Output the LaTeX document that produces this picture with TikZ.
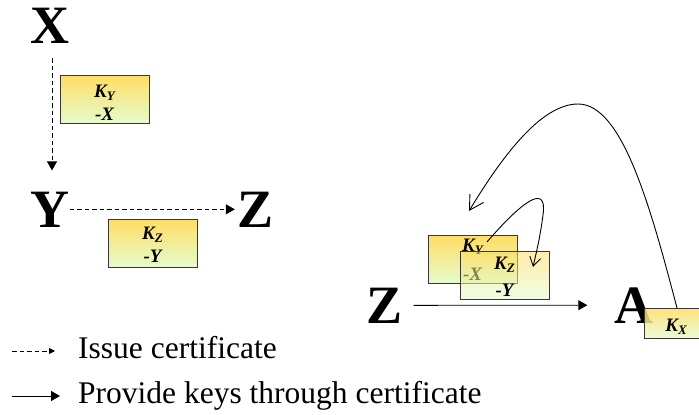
\documentclass[tikz,border=0pt]{standalone}
\usepackage{fontspec}
\setmainfont{Liberation Serif}
\usetikzlibrary{arrows.meta}
\definecolor{keytop}{RGB}{255,221,100}
\definecolor{keybot}{RGB}{228,252,205}
\definecolor{keyedge}{RGB}{55,55,55}
\newcommand{\keysub}[1]{\raisebox{-3.5pt}{\fontsize{13}{13}\selectfont #1}}

\begin{document}
\begin{tikzpicture}[x=1pt,y=-1pt,
  bigletter/.style={font=\fontsize{54}{54}\selectfont\bfseries, inner sep=0pt, anchor=base},
  keybox/.style={draw=keyedge, line width=0.9pt, top color=keytop, bottom color=keybot,
                 minimum width=89pt, minimum height=48pt, inner sep=0pt, outer sep=0pt},
  keytext/.style={font=\fontsize{19}{19}\selectfont\bfseries\itshape, inner sep=0pt, anchor=base},
  legendtext/.style={font=\fontsize{31.5}{31.5}\selectfont, inner sep=0pt, anchor=base west},
  issue/.style={line width=0.9pt, dash pattern=on 4.5pt off 3pt, -{Triangle[length=9pt,width=10pt]}},
  provide/.style={line width=0.9pt, -{Triangle[length=9pt,width=10pt]}},
  pass/.style={line width=0.9pt}]

\useasboundingbox (0,0) rectangle (699,415);

% ---- left: issuing chain X -> Y -> Z
\node[bigletter] (X) at (50,43) {X};
\node[bigletter] (Y) at (50,227) {Y};
\node[bigletter] (Z) at (256,227) {Z};

\draw[issue, shorten <=15pt, shorten >=21pt] ([xshift=2pt]X.south) -- ([xshift=2pt]Y.north);
\draw[issue, shorten >=3pt] (Y.east) -- (Z.west);

\node[keybox] (cy) at (104.5,99) {};
\node[keytext] (cyk) at (104.5,97) {K\keysub{Y}};
\node[keytext] (cyi) at (104.5,120) {-X};

\node[keybox] (cz) at (152.5,243) {};
\node[keytext] (czk) at (152.5,239) {K\keysub{Z}};
\node[keytext] (czi) at (152.5,262) {-Y};

% ---- right: Z obtains the keys from A
\node[bigletter] (Z2) at (384.5,323) {Z};
\node[bigletter] (A) at (634,323) {A};
\draw[provide, shorten <=11pt, shorten >=27pt] (Z2.east) -- (A.west);

\node[keybox] (ry) at (472.5,259) {};
\node[keytext] (ryk) at (472.5,251) {K\keysub{Y}};
\node[keytext] (ryi) at (472.5,280) {-X};

\node[keybox, fill opacity=0.55] (rz) at (504.5,275) {};
\node[keytext] (rzk) at (504.5,269) {K\keysub{Z}};
\node[keytext] (rzi) at (504.5,296) {-Y};

\node[keybox, fill opacity=0.85, minimum width=66pt, minimum height=30pt] (kx) at (677,323) {};
\node[keytext] (kxk) at (676,331) {K\keysub{X}};

% free ends of the curved connectors
\coordinate (bigend) at (469,211);
\coordinate (smallstart) at (487,242);
\coordinate (smallend) at (533,267);

\draw[pass, -{Straight Barb[length=14pt,width=16pt]}]
  (kx.north) .. controls (650,205) and (622,104) .. (578,104)
             .. controls (540,104) and (500,160) .. (bigend);
\draw[pass, -{Straight Barb[length=9pt,width=11pt]}]
  (smallstart) .. controls (518,206) and (548,180) .. (543,215)
               .. controls (540,238) and (536,254) .. (smallend);

% ---- legend
\coordinate (l1a) at (12,351);
\coordinate (l1b) at (55,351);
\coordinate (l2a) at (12,396);
\coordinate (l2b) at (60,396);
\draw[line width=0.9pt, dash pattern=on 4.5pt off 3pt, -{Triangle[length=6pt,width=6pt]}] (l1a) -- (l1b);
\draw[provide] (l2a) -- (l2b);
\node[legendtext] (t1) at (78,358) {Issue certificate};
\node[legendtext] (t2) at (78,403) {Provide keys through certificate};
\end{tikzpicture}
\end{document}
